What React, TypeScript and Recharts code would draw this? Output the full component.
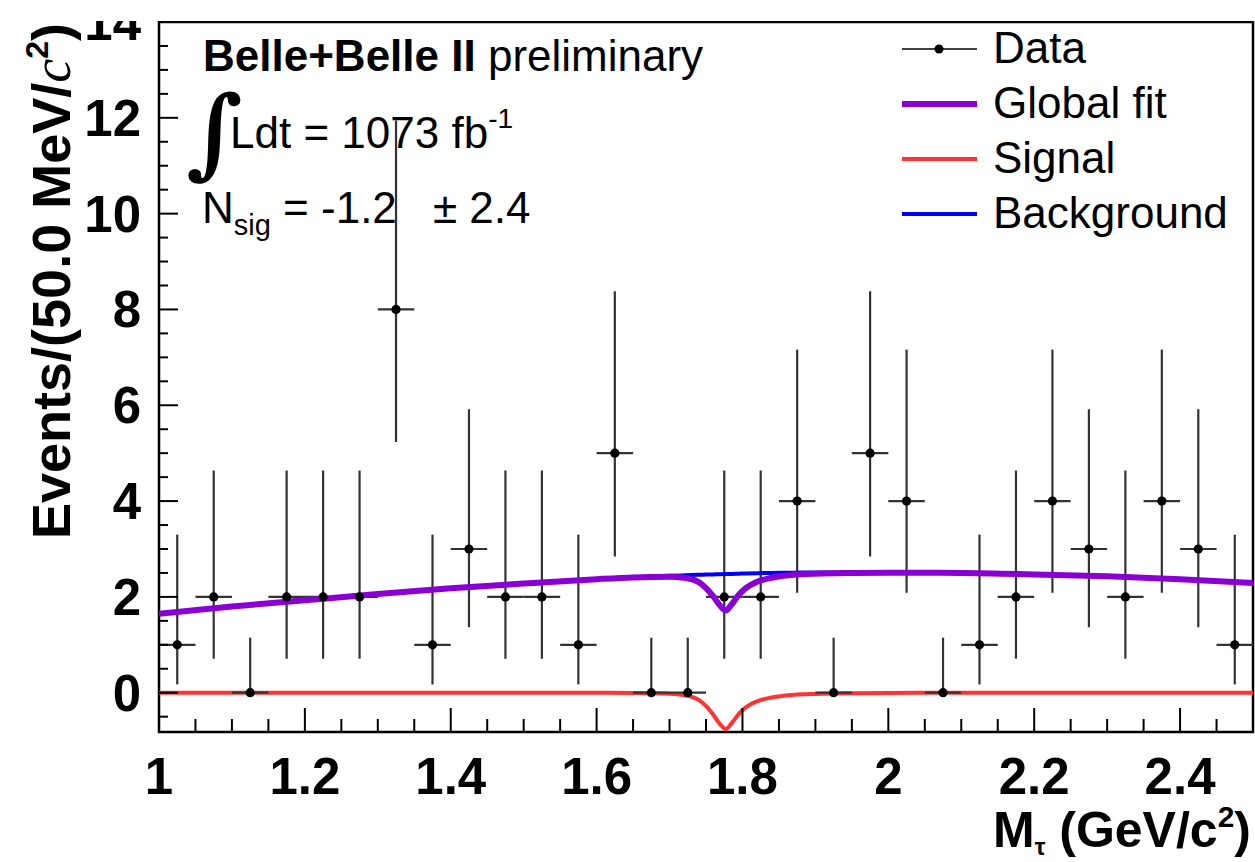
import React from "react";
import {
  ComposedChart,
  ErrorBar,
  Line,
  ReferenceArea,
  Scatter,
  XAxis,
  YAxis,
} from "recharts";

// data: 30 bins of 50 MeV between 1.0 and 2.5 GeV
const binCenters = [
  1.025, 1.075, 1.125, 1.175, 1.225, 1.275, 1.325, 1.375, 1.425, 1.475,
  1.525, 1.575, 1.625, 1.675, 1.725, 1.775, 1.825, 1.875, 1.925, 1.975,
  2.025, 2.075, 2.125, 2.175, 2.225, 2.275, 2.325, 2.375, 2.425, 2.475,
];
const counts = [1, 2, 0, 2, 2, 2, 8, 1, 3, 2, 2, 1, 5, 0, 0, 2, 2, 4, 0, 5, 4, 0, 1, 2, 4, 3, 2, 4, 3, 1];
const errLow = [
  0.827, 1.291, 0, 1.291, 1.291, 1.291, 2.768, 0.827, 1.633, 1.291,
  1.291, 0.827, 2.159, 0, 0, 1.291, 1.291, 1.914, 0, 2.159,
  1.914, 0, 0.827, 1.291, 1.914, 1.633, 1.291, 1.914, 1.633, 0.827,
];
const errHigh = [
  2.3, 2.638, 1.148, 2.638, 2.638, 2.638, 3.945, 2.3, 2.918, 2.638,
  2.638, 2.3, 3.382, 1.148, 1.148, 2.638, 2.638, 3.162, 1.148, 3.382,
  3.162, 1.148, 2.3, 2.638, 3.162, 2.918, 2.638, 3.162, 2.918, 2.3,
];
const binWidth = 0.05;

// fit curves
const curveX = [
  1.0, 1.1, 1.2, 1.3, 1.4, 1.5, 1.6, 1.65, 1.7, 1.72, 1.74, 1.75, 1.76, 1.77, 1.777,
  1.785, 1.795, 1.805, 1.82, 1.84, 1.87, 1.9, 1.95, 2.0, 2.1, 2.2, 2.3, 2.4, 2.5,
];
const bkgY = [
  1.65, 1.8, 1.93, 2.06, 2.18, 2.28, 2.37, 2.41, 2.44, 2.45, 2.46, 2.465, 2.47, 2.475, 2.478,
  2.48, 2.485, 2.49, 2.495, 2.5, 2.505, 2.51, 2.51, 2.51, 2.5, 2.47, 2.43, 2.37, 2.29,
];
const sigY = [
  0, 0, 0, 0, 0, 0, 0, -0.005, -0.02, -0.05, -0.15, -0.28, -0.46, -0.67, -0.76,
  -0.64, -0.44, -0.3, -0.18, -0.1, -0.045, -0.025, -0.01, -0.005, 0, 0, 0, 0, 0,
];
const fitY = [
  1.65, 1.8, 1.93, 2.06, 2.18, 2.28, 2.37, 2.405, 2.42, 2.4, 2.31, 2.185, 2.01, 1.805, 1.718,
  1.84, 2.045, 2.19, 2.315, 2.4, 2.46, 2.485, 2.5, 2.505, 2.5, 2.47, 2.43, 2.37, 2.29,
];

const xMajorTicks = [1, 1.2, 1.4, 1.6, 1.8, 2, 2.2, 2.4];
const xMinorTicks = [
  1.05, 1.1, 1.15, 1.25, 1.3, 1.35, 1.45, 1.5, 1.55, 1.65, 1.7, 1.75, 1.85, 1.9, 1.95,
  2.05, 2.1, 2.15, 2.25, 2.3, 2.35, 2.45,
];
const yMajorTicks = [0, 2, 4, 6, 8, 10, 12, 14];
const yMinorTicks = [
  -0.5, 0.5, 1, 1.5, 2.5, 3, 3.5, 4.5, 5, 5.5, 6.5, 7, 7.5, 8.5, 9, 9.5, 10.5, 11, 11.5,
  12.5, 13, 13.5,
];

const COLORS = {
  fit: "#8A00D4",
  signal: "#FF3333",
  bkg: "#0000FF",
  data: "#000000",
  bar: "#333333",
};

const FONT = '"Liberation Sans", Arial, Helvetica, sans-serif';

const dataRows = binCenters.map((x, i) => ({
  x,
  y: counts[i],
  ey: [errLow[i], errHigh[i]],
  ex: binWidth / 2,
}));
const curveRows = curveX.map((x, i) => ({ x, bkg: bkgY[i], sig: sigY[i], fit: fitY[i] }));

function XTick(props: any) {
  const { x, y, payload } = props;
  const major = xMajorTicks.includes(payload.value);
  return (
    <g>
      <line x1={x} x2={x} y1={y} y2={y - (major ? 24 : 13)} stroke="#000" strokeWidth={2} />
      {major && (
        <text x={x} y={y + 62} textAnchor="middle" fontFamily={FONT} fontWeight="bold" fontSize={51} fill="#000">
          {String(payload.value)}
        </text>
      )}
    </g>
  );
}

function YTick(props: any) {
  const { x, y, payload } = props;
  const major = yMajorTicks.includes(payload.value);
  return (
    <g>
      <line x1={x} x2={x + (major ? 19 : 9)} y1={y} y2={y} stroke="#000" strokeWidth={2} />
      {major && (
        <text x={x - 18} y={y + 18} textAnchor="end" fontFamily={FONT} fontWeight="bold" fontSize={51} fill="#000">
          {String(payload.value)}
        </text>
      )}
    </g>
  );
}

const Dot = (props: any) => <circle cx={props.cx} cy={props.cy} r={4.6} fill={COLORS.data} />;

const legendItems = [
  { label: "Data", color: "#000", width: 1.5, dot: true },
  { label: "Global fit", color: COLORS.fit, width: 6, dot: false },
  { label: "Signal", color: COLORS.signal, width: 4, dot: false },
  { label: "Background", color: COLORS.bkg, width: 4, dot: false },
];

function Overlay() {
  return (
    <svg
      width={1255}
      height={862}
      style={{ position: "absolute", left: 0, top: 0, pointerEvents: "none" }}
      fontFamily={FONT}
    >
      {/* y title */}
      <text transform="translate(70,539) rotate(-90)" fontWeight="bold" fontSize={54} fill="#000">
        Events/(50.0 MeV/
        <tspan fontFamily='"Liberation Serif", serif' fontStyle="italic" fontWeight="normal">c</tspan>
        <tspan fontSize={32} dy={-22}>2</tspan>
        <tspan dy={22}>)</tspan>
      </text>
      {/* x title */}
      <text x={1251} y={847} textAnchor="end" fontWeight="bold" fontSize={50} fill="#000">
        M<tspan fontSize={24} dy={8}>τ</tspan>
        <tspan dy={-8}> (GeV/c</tspan>
        <tspan fontSize={30} dy={-20}>2</tspan>
        <tspan dy={20}>)</tspan>
      </text>

      {/* labels */}
      <text x={203} y={71} fontSize={44} fill="#000">
        <tspan fontWeight="bold">Belle+Belle II</tspan> preliminary
      </text>
      <text x={186} y={166} fontSize={98} fontWeight="bold" fontFamily='"DejaVu Serif", serif' fill="#000">∫</text>
      <text x={230} y={148} fontSize={44} fill="#000">
        Ldt = 1073 fb<tspan fontSize={28} dy={-20}>-1</tspan>
      </text>
      <text x={202} y={223} fontSize={44} fill="#000">
        N<tspan fontSize={29} dy={12}>sig</tspan>
        <tspan dy={-12}> = -1.2</tspan>
      </text>
      <text x={433} y={223} fontSize={44} fill="#000">± 2.4</text>

      {/* legend */}
      {legendItems.map((item, i) => {
        const yc = 49 + i * 55;
        return (
          <g key={item.label}>
            <line x1={902} x2={977} y1={yc} y2={yc} stroke={item.color} strokeWidth={item.width} />
            {item.dot && <circle cx={939} cy={yc} r={4.5} fill="#000" />}
            <text x={993} y={yc + 14} fontSize={44} fill="#000">{item.label}</text>
          </g>
        );
      })}
    </svg>
  );
}

export default function App() {
  return (
    <div style={{ position: "absolute", left: 0, top: 21, width: 1255, height: 841, overflow: "hidden", background: "#fff" }}>
      <div style={{ position: "relative", top: -21, width: 1255, height: 862 }}>
        <ComposedChart
          width={1255}
          height={862}
          margin={{ top: 22, right: 2, bottom: 129, left: 158 }}
          style={{ fontFamily: FONT }}
        >
          <XAxis
            type="number"
            dataKey="x"
            domain={[1, 2.5]}
            allowDataOverflow
            ticks={[...xMajorTicks, ...xMinorTicks].sort((a, b) => a - b)}
            interval={0}
            height={1}
            tickSize={0}
            tickMargin={0}
            tickLine={false}
            axisLine={false}
            tick={XTick}
          />
          <YAxis
            type="number"
            dataKey="y"
            domain={[-0.82, 14]}
            allowDataOverflow
            ticks={[...yMajorTicks, ...yMinorTicks].sort((a, b) => a - b)}
            interval={0}
            width={1}
            tickSize={0}
            tickMargin={0}
            tickLine={false}
            axisLine={false}
            tick={YTick}
          />
          <Line
            data={curveRows}
            dataKey="sig"
            type="monotone"
            stroke={COLORS.signal}
            strokeWidth={4}
            dot={false}
            isAnimationActive={false}
          />
          <Scatter data={dataRows} dataKey="y" shape={Dot} isAnimationActive={false}>
            <ErrorBar dataKey="ey" direction="y" width={0} stroke={COLORS.bar} strokeWidth={2.2} isAnimationActive={false} />
            <ErrorBar dataKey="ex" direction="x" width={0} stroke={COLORS.bar} strokeWidth={2.2} isAnimationActive={false} />
          </Scatter>
          <Line
            data={curveRows}
            dataKey="bkg"
            type="monotone"
            stroke={COLORS.bkg}
            strokeWidth={4}
            dot={false}
            isAnimationActive={false}
          />
          <Line
            data={curveRows}
            dataKey="fit"
            type="monotone"
            stroke={COLORS.fit}
            strokeWidth={6}
            dot={false}
            isAnimationActive={false}
          />
          <ReferenceArea x1={1} x2={2.5} y1={-0.82} y2={14} fill="none" stroke="#000" strokeWidth={2.5} />
        </ComposedChart>
        <Overlay />
      </div>
    </div>
  );
}
